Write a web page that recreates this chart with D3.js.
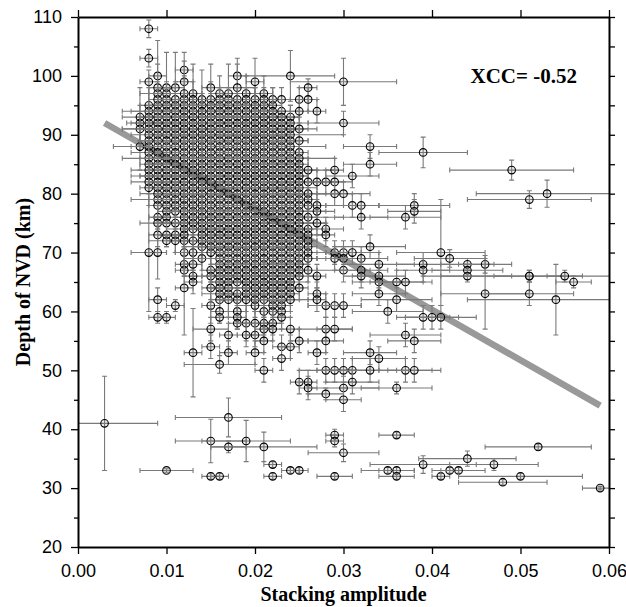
<!DOCTYPE html>
<html lang='en'>
<head>
<meta charset='UTF-8'>
<title>Depth of NVD vs stacking amplitude</title>
<script src="https://cdnjs.cloudflare.com/ajax/libs/d3/7.8.5/d3.min.js"></script>
<style>
  body { margin: 0; background: #fff; }
  svg { display: block; }
  .tick text { font: 18px 'Liberation Sans', Arial, sans-serif; fill: #000; }
  .tick line { stroke: #000; stroke-width: 1.3; }
  .domain { stroke: #000; stroke-width: 2; }
  .title { font-family: 'Liberation Serif', 'Times New Roman', serif; font-weight: bold; fill: #000; }
  .err { stroke: #7a7a7a; stroke-width: 1.1; fill: none; }
  .pt { stroke: #000; stroke-width: 1.1; fill: rgba(110, 110, 110, 0.14); }
</style>
</head>
<body>
<svg id='chart'></svg>
<script>
'use strict'

// stacking amplitude of each column of measurements
const stackAmp = [0.003, 0.007, 0.008, 0.009, 0.010, 0.011, 0.012, 0.013, 0.014, 0.015,
  0.016, 0.017, 0.018, 0.019, 0.020, 0.021, 0.022, 0.023, 0.024, 0.025,
  0.026, 0.027, 0.028, 0.029, 0.030, 0.031, 0.032, 0.033, 0.034, 0.035,
  0.036, 0.037, 0.038, 0.039, 0.040, 0.041, 0.042, 0.043, 0.044, 0.046,
  0.047, 0.048, 0.049, 0.050, 0.051, 0.052, 0.053, 0.054, 0.055, 0.056, 0.059]

// per column: [depth km, amplitude error (x 0.001), depth error km]
const depthPoints = [
  /* 0.003 */ [[41,6,8]],
  /* 0.007 */ [[93,2,5],[92,1.5,3],[91,2,2],[88,3,4]],
  /* 0.008 */ [[108,1,1.5],[103,1,1.5],[99,1,2],[95,1,3],[94,2,3],[93,1,2],[92,2,1],[91,1,2],[90,2,3],[89,1,2],[88,1,1],[87,2,2],[86,1,3],[85,1,2],[84,2,1],[83,1,2],[82,2,2],[81,1,3],[70,2,10]],
  /* 0.009 */ [[100,1,6],[98,1,4],[97,2,2],[96,1,1],[95,1,3],[94,4,2],[93,1,1],[92,1,2],[91,2,3],[90,1,1],[89,2,2],[88,1,3],[87,1,2],[86,4,1],[85,1,2],[84,1,2],[83,2,3],[82,1,2],[81,1,1],[80,2,2],[79,3,3],[78,1,2],[76,1,2],[75,2,1],[73,1,2],[70,1,4.5],[62,1,2],[59,1,1]],
  /* 0.010 */ [[98,1,6],[97,2,2],[96,1,2],[95,1,1],[94,2,3],[93,1,2],[92,1,1],[91,5,2],[90,1,2],[89,1,3],[88,2,1],[87,1,2],[86,1,2],[85,2,3],[84,1,1],[83,4,2],[82,2,2],[81,1,3],[80,1,1],[79,2,2],[78,1,2],[77,1,1],[76,2,3],[75,1,2],[73,1,2],[72,2,1],[59,1,1],[33,3,0.3]],
  /* 0.011 */ [[98,1,6],[96,2,3],[95,1,2],[94,1,1],[93,2,2],[92,1,3],[91,1,2],[90,2,1],[89,1,2],[88,5,2],[87,1,3],[86,1,1],[85,2,2],[84,1,2],[83,1,3],[82,2,1],[81,1,2],[80,1,2],[79,2,3],[78,1,1],[77,1,2],[75,2,2],[73,1,3],[72,1,2],[61,1,1]],
  /* 0.012 */ [[101,1,1.5],[99,1,5],[97,2,3],[96,1,1],[95,1,2],[94,2,2],[93,1,3],[92,1,1],[91,2,2],[90,1,2],[89,1,1],[88,2,3],[87,1,2],[86,4,3],[85,1,1],[84,1,3],[83,2,2],[82,1,2],[81,1,1],[80,2,2],[79,1,3],[78,1,2],[77,2,1],[76,1,2],[75,1,2],[74,2,3],[73,1,2],[72,1,1],[70,1,2],[68,1,2],[67,1,1],[64,1,8]],
  /* 0.013 */ [[97,1,5],[96,2,3],[95,1,1],[94,1,2],[93,2,2],[92,1,3],[91,1,1],[90,2,2],[89,1,2],[88,1,1],[87,2,3],[86,1,2],[85,1,2],[84,3,1],[83,1,3],[82,1,2],[81,2,2],[80,1,1],[79,1,2],[78,2,3],[77,1,2],[76,1,1],[75,2,2],[74,1,2],[72,1,3],[70,2,2],[68,1,2],[66,1,1],[65,1,2],[53,1,7.5]],
  /* 0.014 */ [[96,1,5],[95,2,2],[94,1,3],[93,1,1],[92,2,2],[91,1,2],[90,1,3],[89,2,1],[88,1,2],[87,1,2],[86,2,3],[85,1,1],[84,1,2],[83,3,2],[82,1,3],[81,1,1],[80,2,2],[79,1,2],[78,1,1],[77,2,3],[76,1,2],[75,1,2],[74,2,1],[73,1,2],[72,1,3],[71,2,2],[69,1,2]],
  /* 0.015 */ [[98,1,4],[96,1,3],[95,2,2],[94,1,1],[93,1,2],[92,2,2],[91,1,3],[90,1,1],[89,2,2],[88,1,2],[87,1,1],[86,2,3],[85,1,2],[84,1,2],[83,2,1],[82,1,3],[81,1,2],[80,3,2],[79,1,1],[78,1,2],[77,2,3],[76,1,2],[75,1,1],[74,2,2],[73,1,2],[72,1,3],[71,2,2],[70,1,2],[67,1,2],[66,1,1],[64,1,2],[61,1,3],[57,2,2],[54,1,2],[38,4,3.7],[32,1,0.5]],
  /* 0.016 */ [[97,1,3],[96,2,2],[95,1,1],[94,1,2],[93,2,3],[92,1,2],[91,1,1],[90,2,2],[89,1,2],[88,1,3],[87,2,1],[86,1,2],[85,1,2],[84,2,3],[83,1,1],[82,1,2],[81,2,2],[80,1,3],[79,1,1],[78,2,2],[77,1,2],[76,1,1],[75,2,3],[74,1,2],[73,1,2],[72,2,1],[71,1,2],[70,1,3],[69,2,2],[68,1,1],[67,1,2],[66,2,2],[65,1,2],[64,1,2],[63,2,3],[62,1,2],[60,1,2],[59,1,1],[51,4,1.5],[32,1,0.5]],
  /* 0.017 */ [[97,1,5],[96,1,2],[95,2,2],[94,1,3],[93,1,1],[92,2,2],[91,1,2],[90,1,1],[89,2,3],[88,1,2],[87,1,2],[86,3,1],[85,1,3],[84,1,2],[83,2,2],[82,1,1],[81,1,2],[80,2,3],[79,1,2],[78,1,1],[77,2,2],[76,1,2],[75,1,3],[74,2,1],[73,1,2],[72,1,2],[71,2,3],[70,1,1],[69,1,2],[68,2,2],[67,1,2],[66,1,1],[65,2,2],[64,1,2],[63,1,3],[62,1,3],[56,1,2],[53,1,2],[42,6,3.3],[37,2,1]],
  /* 0.018 */ [[100,1,3],[98,2,4],[96,2,2],[95,1,1],[94,1,2],[93,2,3],[92,1,2],[91,1,1],[90,2,2],[89,1,2],[88,1,3],[87,2,1],[86,1,2],[85,1,2],[84,3,3],[83,1,1],[82,1,2],[81,2,2],[80,1,3],[79,1,1],[78,2,2],[77,1,2],[76,1,1],[75,2,3],[74,1,2],[73,1,2],[72,2,1],[71,1,2],[70,1,3],[69,2,2],[68,1,1],[67,1,2],[66,2,2],[65,1,3],[63,1,2],[62,2,2],[60,1,2],[59,1,2],[58,1,1]],
  /* 0.019 */ [[97,1,3],[96,2,2],[95,1,1],[94,1,2],[93,2,2],[92,1,3],[91,1,1],[90,2,2],[89,1,2],[88,1,1],[87,2,3],[86,1,2],[85,1,2],[84,2,1],[83,1,3],[82,1,2],[81,3,2],[80,1,1],[79,1,2],[78,2,3],[77,1,2],[76,1,1],[75,2,2],[74,1,2],[73,1,3],[72,2,2],[71,1,1],[70,1,2],[69,7,2],[68,1,3],[67,1,1],[66,2,2],[65,1,2],[64,2,3],[63,1,2],[62,1,2],[58,1,3],[56,1,2],[38,5,3.5]],
  /* 0.020 */ [[99,1,4],[96,1,2],[95,2,3],[94,1,1],[93,5,2],[92,2,2],[91,1,3],[90,1,1],[89,2,2],[88,1,2],[87,1,1],[86,2,3],[85,1,2],[84,1,2],[83,2,1],[82,1,3],[81,1,2],[80,2,2],[79,1,1],[78,1,2],[77,2,3],[76,1,2],[75,1,1],[74,2,2],[73,1,2],[72,6,3],[71,2,2],[70,1,1],[69,1,2],[68,2,2],[67,1,2],[66,1,1],[65,1,2],[64,2,2],[63,1,3],[62,1,2],[61,2,2],[58,2,2],[56,1,2],[53,1,2]],
  /* 0.021 */ [[97,1,3],[96,2,2],[95,1,1],[94,1,2],[93,2,3],[92,1,2],[91,6,2],[90,2,2],[89,1,2],[88,1,3],[87,2,1],[86,1,2],[85,1,2],[84,2,3],[83,1,1],[82,1,2],[81,2,2],[80,1,3],[79,1,1],[78,2,2],[77,1,2],[76,1,1],[75,7,3],[74,1,2],[73,1,2],[72,2,1],[71,1,2],[70,1,3],[69,2,2],[68,1,1],[67,1,2],[66,2,2],[65,1,2],[64,1,1],[63,2,2],[62,1,3],[60,1,2],[58,2,2],[57,1,2],[55,1,2],[50,1,2],[37,6,2.5]],
  /* 0.022 */ [[96,1,2],[95,1,3],[94,2,2],[93,1,1],[92,1,2],[91,2,2],[90,1,3],[89,1,1],[88,6,2],[87,1,2],[86,1,1],[85,3,3],[84,1,2],[83,1,2],[82,2,1],[81,1,3],[80,1,2],[79,2,2],[78,1,1],[77,7,2],[76,2,3],[75,1,2],[74,1,1],[73,2,2],[72,1,2],[71,1,3],[70,2,2],[69,1,1],[68,1,2],[67,2,2],[66,1,2],[65,2,3],[64,1,2],[63,1,2],[62,2,2],[61,1,3],[60,1,2],[58,1,2],[57,1,2],[34,1,0.5],[32,1,0.5]],
  /* 0.023 */ [[96,1,2],[94,2,2],[93,1,3],[92,1,1],[91,2,2],[90,1,2],[89,1,1],[88,2,3],[87,1,2],[86,6,2],[85,2,1],[84,1,3],[83,1,2],[82,2,2],[81,1,1],[80,6,2],[79,2,3],[78,1,2],[77,1,1],[76,2,2],[75,1,2],[74,1,3],[73,2,2],[72,1,1],[71,1,2],[70,7,2],[69,1,2],[68,1,1],[67,2,2],[66,1,2],[65,1,3],[64,1,2],[63,1,2],[62,2,3],[61,1,2],[60,1,2],[59,1,2],[54,1,2],[52,1,2]],
  /* 0.024 */ [[100,5,4.3],[93,1,2],[92,2,3],[91,1,1],[90,6,2],[89,2,2],[88,1,3],[87,1,1],[86,2,2],[85,1,2],[84,5,2],[83,2,3],[82,1,2],[81,1,2],[80,2,1],[79,1,3],[78,1,2],[77,2,2],[76,6,2],[75,1,2],[74,2,3],[73,1,2],[72,1,1],[71,2,2],[70,1,2],[69,1,2],[68,2,3],[67,1,2],[66,1,2],[65,2,2],[64,1,3],[63,1,2],[62,2,2],[57,1,2],[54,1,2],[33,1,0.5]],
  /* 0.025 */ [[96,1,2],[94,1,2],[91,1,2],[89,1,2],[87,1,2],[86,1,2],[85,1,2],[84,2,2],[83,1,2],[82,1,2],[81,2,1],[80,1,2],[79,1,2],[78,2,3],[77,1,2],[76,1,2],[75,2,1],[74,1,2],[73,1,2],[72,2,2],[71,1,3],[70,1,2],[69,2,2],[68,1,2],[67,1,3],[66,2,2],[64,1,2],[55,1,2],[48,1,2],[33,1,0.5]],
  /* 0.026 */ [[98,1,1.5],[96,1,2],[84,1,2],[82,1,2],[80,2,2],[79,1,2],[78,1,2],[76,1,2],[74,1,2],[73,2,2],[72,1,2],[71,1,2],[70,2,2],[69,1,2],[67,1,2],[48,1,2],[47,1,2]],
  /* 0.027 */ [[94,1,2],[82,1,2],[78,1,2],[77,1,2],[75,1,2],[66,1,2],[63,1,2],[62,1,2],[53,1,2]],
  /* 0.028 */ [[82,2,2],[74,2,2],[73,1,2],[61,2,2],[57,3,2],[55,2,2],[50,3,2],[46,2,1]],
  /* 0.029 */ [[84,1,2],[82,2,2],[80,2,2],[70,2,2],[69,2,2],[61,3,2],[57,2,2],[50,2,2],[39,1,1],[38,1,1],[32,2,0.5]],
  /* 0.030 */ [[99,6,4],[92,4,2],[80,3,2],[70,2,2],[69,2,2],[67,3,2],[61,2,2],[50,3,2],[47,4,2],[45,2,2],[36,4,1.5]],
  /* 0.031 */ [[83,3,2],[78,3,2],[70,3,2],[50,3,2],[48,3,2]],
  /* 0.032 */ [[78,2,2],[76,3,2],[69,3,2],[67,3,2],[66,2,2]],
  /* 0.033 */ [[88,3,2],[85,3,2],[71,4,2],[53,3,2],[50,3,2]],
  /* 0.034 */ [[68,4,2],[66,3,2],[65,3,2],[63,3,2],[52,3,2]],
  /* 0.035 */ [[60,4,2],[33,3,0.5]],
  /* 0.036 */ [[65,3,2],[62,4,2],[47,4,1],[39,2,0.5],[33,2,0.5],[32,2,0.5]],
  /* 0.037 */ [[76,4,2],[65,3,2],[56,4,2],[50,3,2]],
  /* 0.038 */ [[78,4,2],[77,3,2],[55,3,2],[50,3,2]],
  /* 0.039 */ [[87,5,2.6],[68,3,2],[67,3,2],[59,3,2],[34,6,1.5]],
  /* 0.040 */ [[59,3,2]],
  /* 0.041 */ [[70,5,9],[59,4,2],[32,1,0.5]],
  /* 0.042 */ [[69,4,1.5],[33,1,0.5]],
  /* 0.043 */ [[33,3,0.5]],
  /* 0.044 */ [[68,3,1],[67,4,1],[66,5,1],[35,5.5,1.3]],
  /* 0.046 */ [[68,3,1.5],[63,5,6]],
  /* 0.047 */ [[34,5,1]],
  /* 0.048 */ [[31,5,0.5]],
  /* 0.049 */ [[84,7,1.7]],
  /* 0.050 */ [[32,7,0.5]],
  /* 0.051 */ [[79,7,1.5],[66,10,1],[66,4,1],[63,5,2]],
  /* 0.052 */ [[37,6,0.5]],
  /* 0.053 */ [[80,8,2.3]],
  /* 0.054 */ [[62,10,6]],
  /* 0.055 */ [[66,2,1]],
  /* 0.056 */ [[65,2,1]],
  /* 0.059 */ [[30,2,0.3]]
]

const xTicks = [0, 0.01, 0.02, 0.03, 0.04, 0.05, 0.06]
const yTicks = [20, 30, 40, 50, 60, 70, 80, 90, 100, 110]
const yMinorTicks = [25, 35, 45, 55, 65, 75, 85, 95, 105]

// least-squares trend drawn as the grey band
const fitAmp = [0.003, 0.059]
const fitDepth = [92, 44]
const xccText = 'XCC= -0.52'

const W = 626, H = 607
const mLeft = 78, mRight = 609, mTop = 17, mBottom = 547

const svg = d3.select('#chart').attr('width', W).attr('height', H)

const x = d3.scaleLinear([0, 0.06], [mLeft, mRight])
const y = d3.scaleLinear([20, 110], [mBottom, mTop])

svg.append('clipPath').attr('id', 'plot-clip')
  .append('rect')
  .attr('x', mLeft).attr('y', mTop)
  .attr('width', mRight - mLeft).attr('height', mBottom - mTop)

const plot = svg.append('g').attr('clip-path', 'url(#plot-clip)')

// trend line under the points
plot.append('line')
  .attr('x1', x(fitAmp[0])).attr('y1', y(fitDepth[0]))
  .attr('x2', x(fitAmp[1])).attr('y2', y(fitDepth[1]))
  .attr('stroke', '#999').attr('stroke-width', 6.5)

const points = stackAmp.flatMap((a, i) => depthPoints[i].map(p => ({
  amp: a, depth: p[0], ex: p[1] / 1000, ey: p[2]
})))

const cap = 2.5
const errPath = d => {
  const cx = x(d.amp), cy = y(d.depth)
  const x0 = x(d.amp - d.ex), x1 = x(d.amp + d.ex)
  const y0 = y(d.depth - d.ey), y1 = y(d.depth + d.ey)
  return `M${x0},${cy}H${x1}` +
    `M${x0},${cy - cap}V${cy + cap}M${x1},${cy - cap}V${cy + cap}` +
    `M${cx},${y0}V${y1}` +
    `M${cx - cap},${y0}H${cx + cap}M${cx - cap},${y1}H${cx + cap}`
}

// each measurement: its error cross, then its circle (plotted in file order)
const marks = plot.append('g').selectAll('g')
  .data(points)
  .join('g')

marks.append('path')
  .attr('class', 'err')
  .attr('d', errPath)

marks.append('circle')
  .attr('class', 'pt')
  .attr('cx', d => x(d.amp))
  .attr('cy', d => y(d.depth))
  .attr('r', 3.8)

// axes: labelled left / bottom, bare ticks top / right
svg.append('g')
  .attr('transform', `translate(${mLeft},0)`)
  .call(d3.axisLeft(y).tickValues(yMinorTicks).tickSize(4).tickFormat(''))
  .call(g => g.select('.domain').remove())

svg.append('g')
  .attr('transform', `translate(${mLeft},0)`)
  .call(d3.axisLeft(y).tickValues(yTicks).tickSize(7).tickSizeOuter(0).tickPadding(9).tickFormat(d3.format('d')))

svg.append('g')
  .attr('transform', `translate(${mRight},0)`)
  .call(d3.axisRight(y).tickValues(yTicks.concat(yMinorTicks)).tickSize(6).tickSizeOuter(0).tickFormat(''))

svg.append('g')
  .attr('transform', `translate(0,${mBottom})`)
  .call(d3.axisBottom(x).tickValues(xTicks).tickSize(7).tickSizeOuter(0).tickPadding(10).tickFormat(d3.format('.2f')))

svg.append('g')
  .attr('transform', `translate(0,${mTop})`)
  .call(d3.axisTop(x).tickValues(xTicks).tickSize(7).tickSizeOuter(0).tickFormat(''))

svg.append('text')
  .attr('class', 'title')
  .attr('x', (mLeft + mRight) / 2).attr('y', 601)
  .attr('text-anchor', 'middle')
  .style('font-size', '20px')
  .text('Stacking amplitude')

svg.append('text')
  .attr('class', 'title')
  .attr('transform', `translate(30,${(mTop + mBottom) / 2}) rotate(-90)`)
  .attr('text-anchor', 'middle')
  .style('font-size', '20px')
  .text('Depth of NVD (km)')

svg.append('text')
  .attr('class', 'title')
  .attr('x', 577).attr('y', 83)
  .attr('text-anchor', 'end')
  .style('font-size', '21px')
  .text(xccText)
</script>
</body>
</html>
